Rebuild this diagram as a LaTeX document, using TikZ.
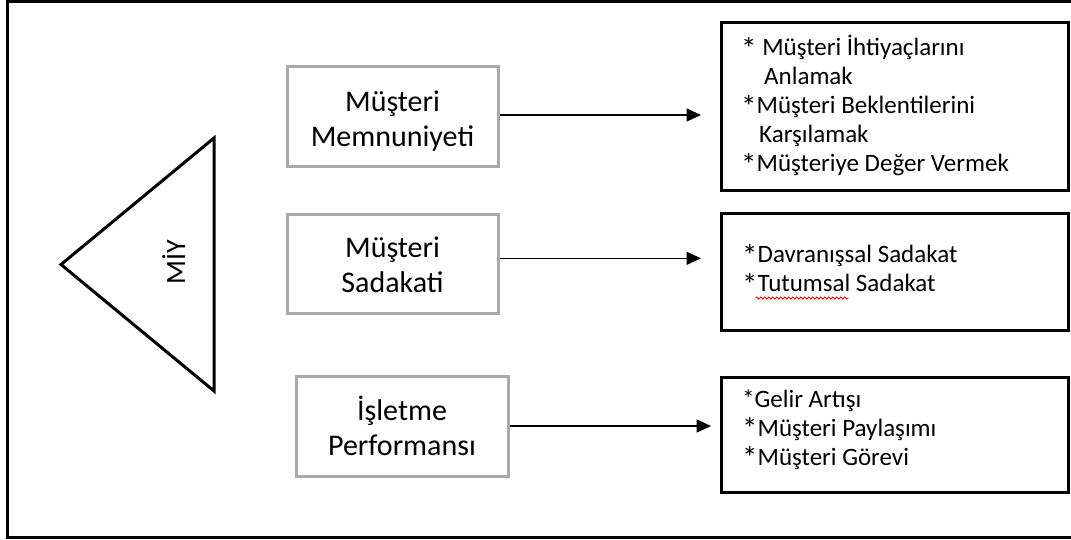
\documentclass[tikz,border=0pt]{standalone}
\usepackage{fontspec}
\setmainfont{Carlito}
\usetikzlibrary{arrows.meta,decorations.pathmorphing}
\definecolor{boxgray}{RGB}{170,170,170}
% a larger, slightly lowered bullet asterisk for the list items
\newcommand{\bulletast}{\raisebox{-3.5pt}{\fontsize{31pt}{29pt}\selectfont *}}
\begin{document}
\begin{tikzpicture}[x=1pt,y=-1pt,
  frame/.style={line width=3pt,line join=miter},
  leftbox/.style={rectangle,draw=boxgray,line width=3pt,minimum width=211pt,minimum height=100pt,inner sep=0pt},
  rightbox/.style={rectangle,draw=black,line width=3pt,minimum width=347pt,inner sep=0pt},
  lefttext/.style={align=center,font=\fontsize{30pt}{35pt}\selectfont,inner sep=0pt,anchor=base},
  righttext/.style={align=left,font=\fontsize{25pt}{29pt}\selectfont,inner sep=0pt,anchor=base west},
  arr/.style={line width=1.5pt,-{Triangle[length=14.5pt,width=13pt]}},
  spell/.style={red,line width=0.8pt,decorate,decoration={snake,amplitude=1pt,segment length=4pt}},
]
\useasboundingbox (0,0) rectangle (1071,539);

% outer frame (open on the right)
\draw[frame] (1076,1.5) -- (7.5,1.5) -- (7.5,537.5) -- (1076,537.5);

% triangle with its label
\draw[frame] (214,138) -- (61,264.5) -- (214,391) -- cycle;
\node[font=\fontsize{28pt}{34pt}\selectfont,rotate=90,anchor=base,inner sep=0pt] (miy) at (185,262.5) {MİY};

% left column boxes
\node[leftbox] (b1) at (392.5,116.7) {};
\node[leftbox,minimum height=99pt] (b2) at (392.5,263.8) {};
\node[leftbox,minimum width=212pt] (b3) at (402,426) {};
% (base anchor = baseline of the last line)
\node[lefttext] (t1) at (392.5,146) {Müşteri\\Memnuniyeti};
\node[lefttext] (t2) at (392.5,292.5) {Müşteri\\Sadakati};
\node[lefttext] (t3) at (402,455) {İşletme\\Performansı};

% right column boxes
\node[rightbox,minimum height=168pt] (r1) at (894.5,106) {};
\node[rightbox,minimum height=117pt] (r2) at (894.5,271.5) {};
\node[rightbox,minimum height=115pt] (r3) at (894.5,434.5) {};

\node[righttext] (r1t) at (741,171.7) {\bulletast{} Müşteri İhtiyaçlarını\\\hspace*{23pt}Anlamak\\\bulletast Müşteri Beklentilerini\\\hspace*{18pt}Karşılamak\\\bulletast Müşteriye Değer Vermek};
\node[righttext] (r2t) at (742,291.5) {\bulletast Davranışsal Sadakat\\\bulletast Tutumsal Sadakat};
\node[righttext] (r3t) at (742,465) {*Gelir Artışı\\\bulletast Müşteri Paylaşımı\\\bulletast Müşteri Görevi};

% spelling mark under "Tutumsal"
\draw[spell] (755.5,298) -- (848.5,298);

% connectors
\draw[arr,shorten >=18.5pt] ([yshift=1.7pt]b1.east) -- ([yshift=1.7pt]b1.east -| r1.west);
\draw[arr,shorten >=18.5pt] ([yshift=5.5pt]b2.east) -- ([yshift=5.5pt]b2.east -| r2.west);
\draw[arr,shorten >=8.5pt] (b3.east) -- (b3.east -| r3.west);
\end{tikzpicture}
\end{document}
